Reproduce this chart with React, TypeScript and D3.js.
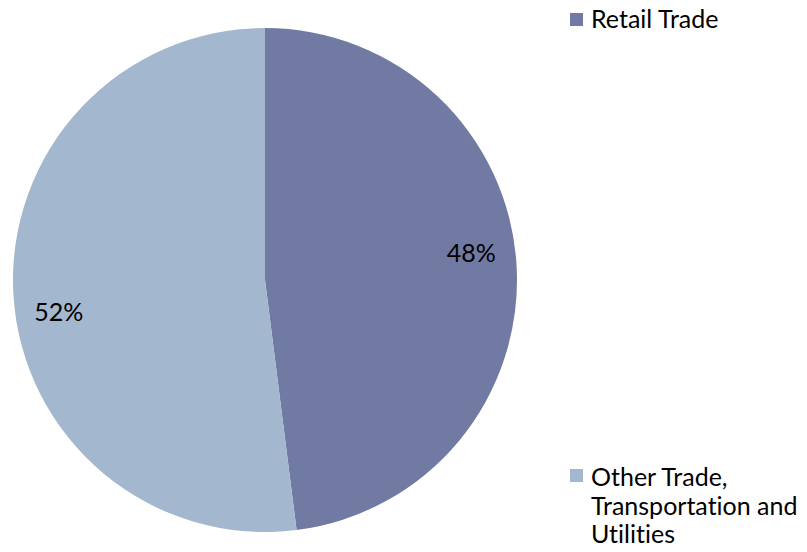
import { useMemo } from "react";
import * as d3 from "d3";

const categories = ["Retail Trade", "Other Trade, Transportation and Utilities"];
const values = [48, 52];
const legendLines = [["Retail Trade"], ["Other Trade,", "Transportation and", "Utilities"]];
const colors = ["#717AA2", "#A3B7CE"];

const WIDTH = 807;
const HEIGHT = 552;
const CX = 265;
const CY = 280;
const RADIUS = 252;
const FONT = "Lato, 'DejaVu Sans', sans-serif";

function PieChart() {
  const pie = useMemo(() => {
    const gen = d3.pie<number>().value((d) => d).sort(null);
    return gen(values);
  }, []);

  const arc = d3.arc<d3.PieArcDatum<number>>().innerRadius(0).outerRadius(RADIUS);
  // labels sit out toward the rim, like the office chart
  const labelArc = d3
    .arc<d3.PieArcDatum<number>>()
    .innerRadius(RADIUS * 0.82)
    .outerRadius(RADIUS * 0.82);

  return (
    <svg
      width={WIDTH}
      height={HEIGHT}
      style={{ display: "block", background: "#fff", fontVariantLigatures: "none" }}
    >
      <g transform={`translate(${CX}, ${CY})`}>
        {pie.map((p, i) => (
          <path key={i} d={arc(p) || ""} fill={colors[i]} />
        ))}
        {pie.map((p, i) => {
          const [x, y] = labelArc.centroid(p);
          return (
            <text
              key={"l" + i}
              x={x}
              y={y + (i === 0 ? -11 : 22)}
              textAnchor="middle"
              dominantBaseline="middle"
              fontFamily={FONT}
              fontSize={25}
              fill="#000"
            >
              {p.value}%
            </text>
          );
        })}
      </g>
      {categories.map((c, i) => {
        const top = i === 0 ? 13 : 469;
        return (
          <g key={c} transform={`translate(570, ${top})`}>
            <rect x={0} y={0} width={13} height={13} fill={colors[i]} />
            <text x={21} y={i === 0 ? 15 : 17} fontFamily={FONT} fontSize={25} fill="#000">
              {legendLines[i].map((line, j) => (
                <tspan key={j} x={21} dy={j === 0 ? 0 : 28.5}>
                  {line}
                </tspan>
              ))}
            </text>
          </g>
        );
      })}
    </svg>
  );
}

export default function App() {
  return (
    <div style={{ margin: -8 }}>
      <PieChart />
    </div>
  );
}
